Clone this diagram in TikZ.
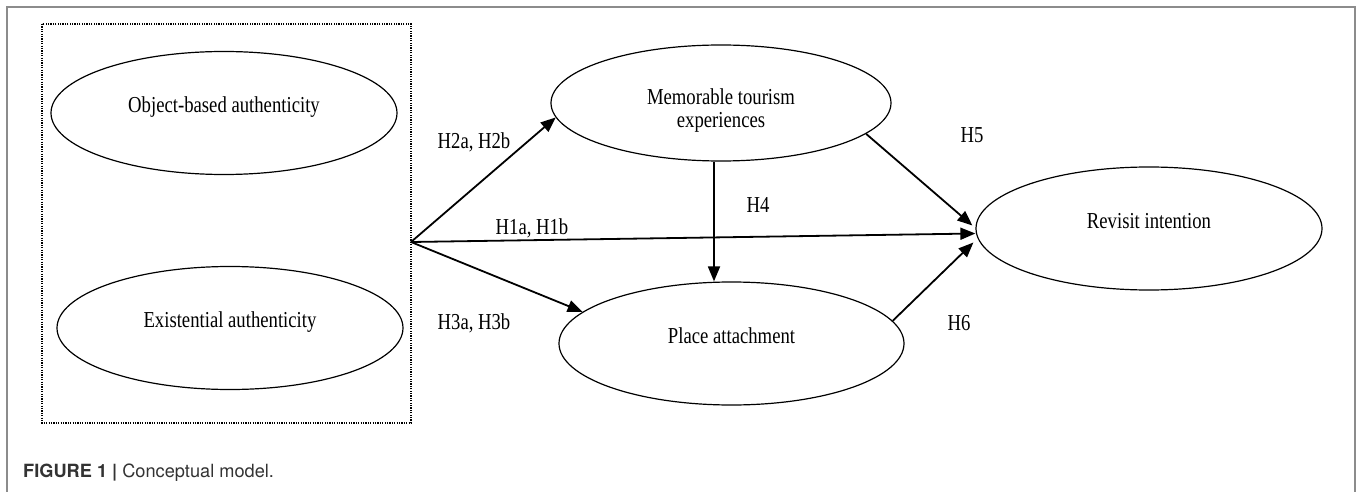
\documentclass[tikz,border=0pt]{standalone}
\usepackage{fontspec}
\setmainfont[FakeStretch=0.82]{Liberation Serif}
\newfontfamily\capfont{TeX Gyre Heros}
\usepackage{xcolor}
\usetikzlibrary{positioning,shapes.geometric,arrows.meta}
\definecolor{framegray}{RGB}{140,140,140}
\definecolor{capgray}{RGB}{51,51,51}

\begin{document}
\begin{tikzpicture}[x=1pt, y=1pt, node distance=215pt,
    construct/.style={draw, ellipse, line width=1.2pt, minimum width=346pt, minimum height=123pt, text depth=16pt, font=\fontsize{22.8}{23}\selectfont},
    hyp/.style={font=\fontsize{22.8}{23}\selectfont, inner sep=0pt},
    path/.style={-{Triangle[length=15pt, width=12pt]}, line width=1.8pt}]
    \useasboundingbox (0,0) rectangle (1358,-492);

    % Outer frame and caption
    \draw[framegray, line width=2pt] (7,-492) -- (7,-7) -- (1355,-7) -- (1355,-492);
    \node[anchor=base west, inner sep=0pt, text=capgray, font=\capfont\fontsize{18.2}{20}\selectfont] (cap) at (23,-477) {\textbf{FIGURE 1 |} Conceptual model.};

    % Authenticity block
    \draw[line width=1.4pt, dash pattern=on 1.3pt off 1.1pt] (42,-24) rectangle (411,-423);
    \node[construct] (obj) at (224,-113) {Object-based authenticity};
    \node[construct, below of=obj, xshift=6pt] (exi) {Existential authenticity};
    \coordinate (apex) at (411,-242);

    % Mediators
    \node[construct, align=center, minimum width=340pt, minimum height=116pt, text height=55pt, text depth=5pt, right of=obj, xshift=282pt, yshift=10pt] (mte) {Memorable tourism\\experiences};
    \node[construct, minimum width=345pt, right of=exi, xshift=286.5pt, yshift=-15.5pt] (pa) {Place attachment};

    % Outcome
    \node[construct, right of=mte, xshift=213pt, yshift=-125.5pt] (rev) {Revisit intention};

    % Arrows
    \draw[path] (apex) -- (mte.185);
    \draw[path] (apex) -- ([yshift=-5pt]rev.west);
    \draw[path] (apex) -- (pa.168);
    \draw[path] ([xshift=-7pt]mte.south) -- ([xshift=-17.5pt]pa.north);
    \draw[path] (mte.-12) -- ([xshift=-3pt, yshift=3pt]rev.west);
    \draw[path] (pa.8) -- ([xshift=-2pt, yshift=-14pt]rev.west);

    % Labels
    \node[hyp] (h2) at (474,-142) {H2a, H2b};
    \node[hyp] (h1) at (532,-228) {H1a, H1b};
    \node[hyp] (h3) at (474,-323) {H3a, H3b};
    \node[hyp] (h4) at (758,-205) {H4};
    \node[hyp] (h5) at (972,-135) {H5};
    \node[hyp] (h6) at (959,-323) {H6};
\end{tikzpicture}
\end{document}
